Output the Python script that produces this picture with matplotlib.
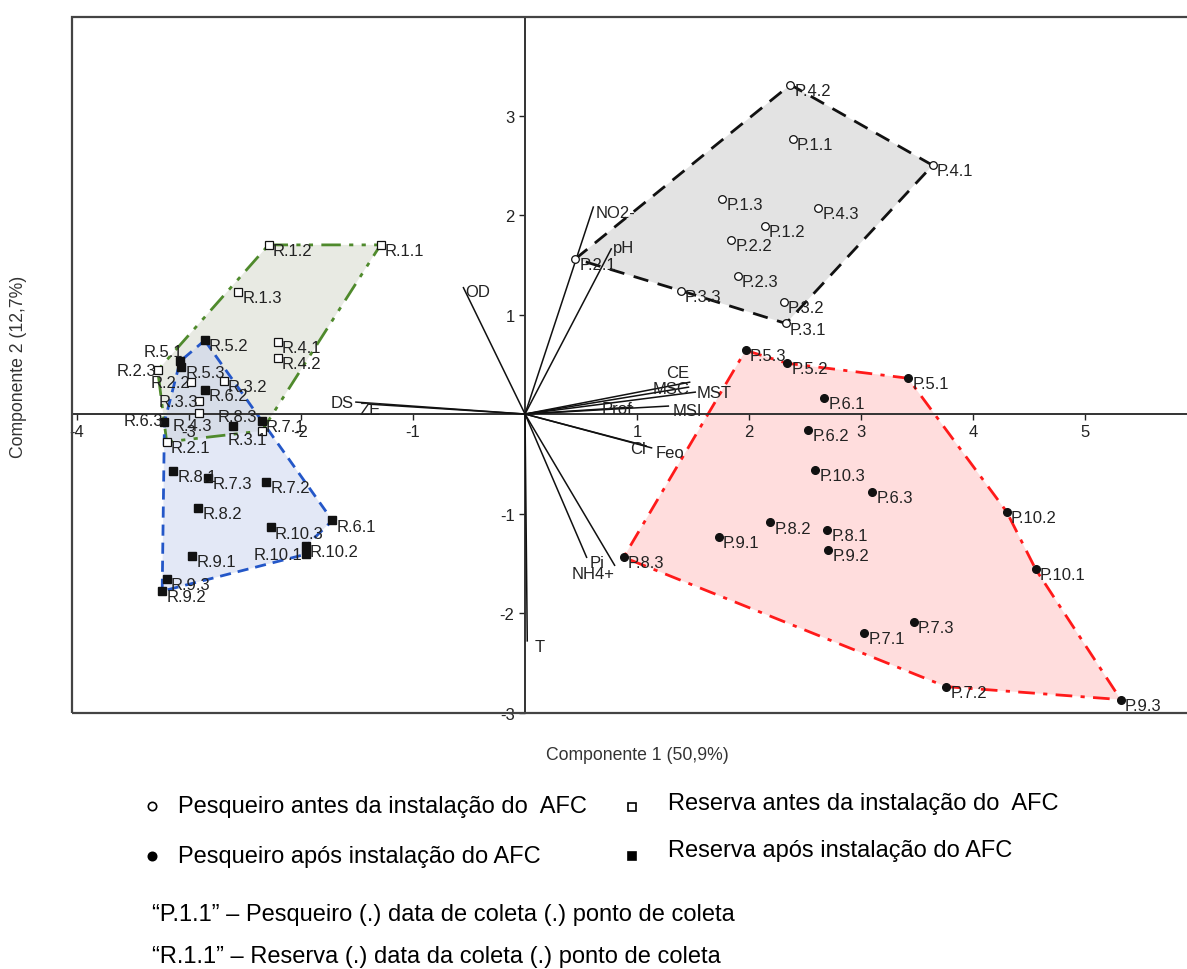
import matplotlib
matplotlib.use("Agg")
import matplotlib.pyplot as plt
from matplotlib.patches import Polygon, Rectangle
from matplotlib.lines import Line2D

plt.rcParams['font.family'] = ['Liberation Sans', 'DejaVu Sans']
plt.rcParams['axes.unicode_minus'] = False

# Pesqueiro antes da instalacao (circulo aberto)
p_antes_nomes = ["P.4.2", "P.1.1", "P.4.1", "P.1.3", "P.4.3", "P.1.2", "P.2.2", "P.2.1",
                 "P.2.3", "P.3.3", "P.3.2", "P.3.1"]
p_antes_x = [2.37, 2.39, 3.64, 1.76, 2.62, 2.14, 1.84, 0.45, 1.90, 1.39, 2.31, 2.33]
p_antes_y = [3.31, 2.76, 2.50, 2.16, 2.07, 1.89, 1.75, 1.56, 1.39, 1.24, 1.13, 0.91]

# Pesqueiro apos instalacao (ponto cheio)
p_apos_nomes = ["P.5.3", "P.5.2", "P.5.1", "P.6.1", "P.6.2", "P.10.3", "P.6.3", "P.8.2", "P.8.1",
                "P.9.1", "P.9.2", "P.8.3", "P.10.2", "P.10.1", "P.7.3", "P.7.1", "P.7.2", "P.9.3"]
p_apos_x = [1.97, 2.34, 3.42, 2.67, 2.53, 2.59, 3.10, 2.19, 2.70,
            1.73, 2.71, 0.88, 4.30, 4.56, 3.47, 3.03, 3.76, 5.32]
p_apos_y = [0.64, 0.51, 0.36, 0.16, -0.16, -0.56, -0.78, -1.09, -1.17,
            -1.24, -1.37, -1.44, -0.98, -1.56, -2.09, -2.20, -2.74, -2.87]

# Reserva antes da instalacao (quadrado aberto)
r_antes_nomes = ["R.1.2", "R.1.1", "R.1.3", "R.4.1", "R.4.2", "R.2.3", "R.2.2", "R.3.2",
                 "R.3.3", "R.4.3", "R.2.1", "R.3.1"]
r_antes_x = [-2.29, -1.29, -2.56, -2.21, -2.21, -3.28, -2.98, -2.69, -2.91, -2.91, -3.20, -2.35]
r_antes_y = [1.70, 1.70, 1.23, 0.72, 0.56, 0.44, 0.32, 0.33, 0.13, 0.01, -0.28, -0.17]

# Reserva apos instalacao (quadrado cheio)
r_apos_nomes = ["R.5.2", "R.5.1", "R.5.3", "R.6.2", "R.6.3", "R.8.3", "R.7.1", "R.8.1", "R.7.3",
                "R.7.2", "R.8.2", "R.6.1", "R.10.3", "R.10.2", "R.10.1", "R.9.1", "R.9.3", "R.9.2"]
r_apos_x = [-2.86, -3.08, -3.07, -2.86, -3.22, -2.61, -2.35, -3.14, -2.83,
            -2.31, -2.92, -1.72, -2.27, -1.96, -1.96, -2.97, -3.20, -3.24]
r_apos_y = [0.74, 0.53, 0.47, 0.24, -0.08, -0.12, -0.07, -0.57, -0.64,
            -0.68, -0.94, -1.07, -1.14, -1.33, -1.41, -1.43, -1.66, -1.78]

# contornos (ordem dos vertices)
hull_p_antes = ["P.2.1", "P.4.2", "P.4.1", "P.3.1", "P.3.3"]
hull_p_apos = ["P.5.3", "P.5.2", "P.5.1", "P.10.2", "P.10.1", "P.9.3", "P.7.2", "P.8.3"]
hull_r_antes = ["R.1.2", "R.1.1", "R.3.1", "R.2.1", "R.2.3"]
hull_r_apos = ["R.5.2", "R.7.1", "R.6.1", "R.10.2", "R.10.1", "R.9.2", "R.6.3", "R.5.1"]

# variaveis (vetores)
var_nomes = ["NO2-", "pH", "OD", "DS", "ZE", "CE", "MSC", "MST", "MSI", "Prof",
             "Cl", "Feo", "Pi", "NH4+", "T"]
var_x = [0.61, 0.77, -0.55, -1.51, -1.40, 1.47, 1.46, 1.52, 1.28, 0.96,
         1.08, 1.13, 0.55, 0.80, 0.02]
var_y = [2.08, 1.66, 1.27, 0.12, 0.10, 0.32, 0.27, 0.22, 0.08, 0.07,
         -0.32, -0.34, -1.44, -1.52, -2.28]

# deslocamento dos rotulos (pontos, alinhamento)
default_off = (3, -4, 'left')
offsets = {
    "R.5.1": (2, 7, 'right'), "R.2.3": (-1, 0, 'right'), "R.2.2": (-1, 0, 'right'),
    "R.3.3": (-1, 0, 'right'), "R.6.3": (-1, 1, 'right'), "R.4.3": (-19, -9, 'left'),
    "R.8.3": (3, 7, 'center'), "R.3.1": (4, -6, 'right'), "R.10.1": (-2, 0, 'right'),
    "NO2-": (2, -4, 'left'), "pH": (1, 1, 'left'), "OD": (1, -3, 'left'),
    "DS": (-2, 0, 'right'), "ZE": (-6, -4, 'left'), "CE": (0, 7, 'right'),
    "MSC": (1, -1, 'right'), "MST": (1, 0, 'left'), "MSI": (3, -3, 'left'),
    "Prof": (0, -1, 'right'), "Cl": (0, -2, 'right'), "Feo": (3, -3, 'left'),
    "Pi": (2, -4, 'left'), "NH4+": (0, -6, 'right'), "T": (5, -4, 'left'),
}

fig = plt.figure(figsize=(11.87, 9.70), dpi=100)
ax = fig.add_axes([0.0607, 0.2639, 0.9486, 0.7175])
ax.set_xlim(-4.045, 6.01)
ax.set_ylim(-3.005, 3.99)

coords = {}
for nomes, xs, ys in [(p_antes_nomes, p_antes_x, p_antes_y), (p_apos_nomes, p_apos_x, p_apos_y),
                      (r_antes_nomes, r_antes_x, r_antes_y), (r_apos_nomes, r_apos_x, r_apos_y)]:
    for n, a, b in zip(nomes, xs, ys):
        coords[n] = (a, b)

def hull(names, face, edge, dashes):
    pts = [coords[n] for n in names]
    ax.add_patch(Polygon(pts, closed=True, facecolor=face, edgecolor='none', alpha=0.5, zorder=1))
    ax.add_patch(Polygon(pts, closed=True, fill=False, edgecolor=edge, lw=2,
                         linestyle=(0, dashes), zorder=2))

hull(hull_r_antes, '#d2d7c9', '#4f8a2c', (7, 3, 1.5, 3, 1.5, 3))
hull(hull_r_apos, '#c8d2ee', '#2457c8', (4, 2.5))
hull(hull_p_antes, '#c9c9c9', '#111111', (5.5, 3.5))
hull(hull_p_apos, '#ffbdbd', '#ff1a1a', (6, 3, 1.5, 3))

# vetores
for n, a, b in zip(var_nomes, var_x, var_y):
    ax.plot([0, a], [0, b], color='#111111', lw=1.1, zorder=3)

ax.plot(p_antes_x, p_antes_y, 'o', mfc='white', mec='#111111', ms=5.5, mew=0.9, zorder=4)
ax.plot(p_apos_x, p_apos_y, 'o', color='#111111', ms=5.5, zorder=4)
ax.plot(r_antes_x, r_antes_y, 's', mfc='white', mec='#111111', ms=5.5, mew=0.9, zorder=4)
ax.plot(r_apos_x, r_apos_y, 's', color='#111111', ms=5.5, zorder=4)

for n, (a, b) in list(coords.items()) + list(zip(var_nomes, zip(var_x, var_y))):
    dx, dy, ha = offsets.get(n, default_off)
    ax.annotate(n, (a, b), xytext=(dx, dy), textcoords='offset points', ha=ha, va='center',
                fontsize=12, color='#222222', zorder=5)

# eixos no centro
for s in ['top', 'right']:
    ax.spines[s].set_visible(False)
ax.spines['left'].set_position(('data', 0))
ax.spines['bottom'].set_position(('data', 0))
for s in ['left', 'bottom']:
    ax.spines[s].set_color('#333333')
    ax.spines[s].set_linewidth(1.4)
    ax.spines[s].set_zorder(2.5)
ax.add_patch(Rectangle((0, 0), 1, 1, transform=ax.transAxes, fill=False,
                       edgecolor='#444444', lw=1.6, clip_on=False, zorder=6))
ax.set_xticks([-4, -3, -2, -1, 1, 2, 3, 4, 5])
ax.set_yticks([-3, -2, -1, 1, 2, 3])
ax.tick_params(direction='out', length=4, width=1, labelsize=12, colors='#222222')

fig.text(0.5366, 0.2216, "Componente 1 (50,9%)", ha='center', va='center', fontsize=12.7, color='#333333')
fig.text(0.0152, 0.6216, "Componente 2 (12,7%)", ha='center', va='center', rotation=90,
         fontsize=12.7, color='#333333')

# legenda
leg_marks = [(0.128, 0.168, 'o', 'white'), (0.128, 0.1165, 'o', 'black'),
             (0.5324, 0.167, 's', 'white'), (0.5324, 0.1165, 's', 'black')]
for lx, ly, m, fc in leg_marks:
    fig.add_artist(Line2D([lx], [ly], transform=fig.transFigure, marker=m, mfc=fc,
                          mec='black', ms=6, mew=1.2, linestyle='none'))
fig.text(0.150, 0.168, "Pesqueiro antes da instalação do  AFC", va='center', fontsize=17)
fig.text(0.150, 0.1165, "Pesqueiro após instalação do AFC", va='center', fontsize=17)
fig.text(0.5628, 0.1711, "Reserva antes da instalação do  AFC", va='center', fontsize=17)
fig.text(0.5628, 0.1227, "Reserva após instalação do AFC", va='center', fontsize=17)
fig.text(0.128, 0.0567, "“P.1.1” – Pesqueiro (.) data de coleta (.) ponto de coleta", va='center', fontsize=17)
fig.text(0.128, 0.0134, "“R.1.1” – Reserva (.) data da coleta (.) ponto de coleta", va='center', fontsize=17)

fig.savefig("out.png", dpi=100)
